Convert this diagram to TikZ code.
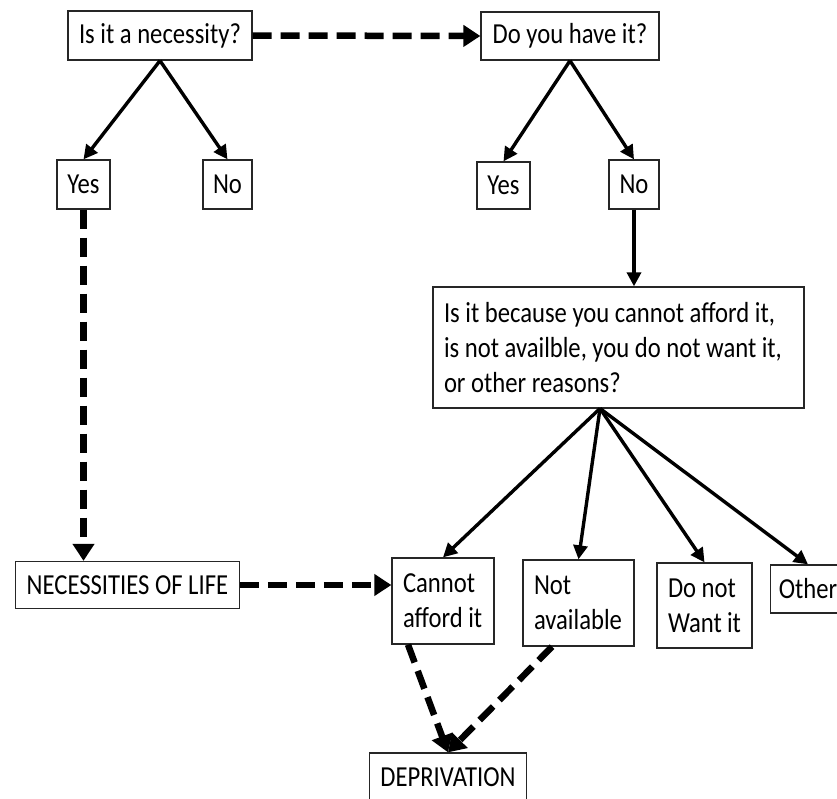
\documentclass[tikz,border=0pt]{standalone}
\usepackage{fontspec}
\setmainfont[FakeStretch=0.85]{Carlito}
\usetikzlibrary{arrows.meta}
\tikzset{
  box/.style={draw=black!85, line width=1.3bp, inner xsep=11bp, inner ysep=0bp,
    font=\fontsize{29bp}{35bp}\selectfont, text=black},
  lbox/.style={box, align=flush left, execute at begin node={\spaceskip=0pt\xspaceskip=0pt}},
  solidarrow/.style={line width=3.4bp, -{Triangle[length=14bp,width=14bp]}},
  dasharrow/.style={line width=6.5bp, dash pattern=on 19bp off 9bp,
    -{Triangle[length=17bp,width=21bp]}}
}
\begin{document}
\begin{tikzpicture}[x=1bp,y=-1bp]
\useasboundingbox (0,0) rectangle (837,799);
\clip (0,0) rectangle (837,799);
% nodes
\node[box, minimum width=184bp, minimum height=49bp] (nec) at (160,35.5) {Is it a necessity?};
\node[box, minimum width=178bp, minimum height=48bp] (have) at (570,36) {Do you have it?};
\node[box, inner xsep=5bp, minimum width=53bp, minimum height=49bp] (yes1) at (83.5,184.5) {Yes};
\node[box, inner xsep=5bp, minimum width=49bp, minimum height=49bp] (no1) at (227.5,184.5) {No};
\node[box, inner xsep=5bp, minimum width=53bp, minimum height=47bp] (yes2) at (503.5,185.5) {Yes};
\node[box, inner xsep=5bp, minimum width=50bp, minimum height=49bp] (no2) at (634,184.5) {No};
\node[lbox, text width=349bp, minimum height=121bp] (why) at (618.5,347.5)
  {Is it because you cannot afford it,\\ is not availble, you do not want it,\\ or other reasons?};
\node[lbox, text width=80bp, minimum height=86bp] (cant) at (443,601) {Cannot\\ afford it};
\node[lbox, text width=89bp, minimum height=86bp] (notav) at (578.5,603) {Not\\ available};
\node[lbox, text width=73bp, minimum height=85bp] (dont) at (704.5,605.5) {Do not\\ Want it};
\node[box, inner xsep=8bp, minimum width=74bp, minimum height=48bp] (other) at (808,589) {Other};
\node[box, minimum width=223bp, minimum height=47bp] (life) at (127.5,585) {NECESSITIES OF LIFE};
\node[box, minimum width=153bp, minimum height=49bp] (dep) at (448,777.5) {DEPRIVATION};
\coordinate (fan) at (600,408.5);
% connectors
\draw[solidarrow] (nec.south) -- (yes1.north);
\draw[solidarrow] (nec.south) -- (no1.north);
\draw[solidarrow] (have.south) -- (yes2.north);
\draw[solidarrow] (have.south) -- (no2.north);
\draw[solidarrow] (no2.south) -- (no2.south |- why.north);
\draw[solidarrow] (fan) -- (cant.north);
\draw[solidarrow] (fan) -- (notav.north);
\draw[solidarrow] (fan) -- (dont.north);
\draw[solidarrow] (fan) -- (other.north);
\draw[dasharrow] (nec.east) -- (have.west);
\draw[dasharrow] (yes1.south) -- (yes1.south |- life.north);
\draw[dasharrow] (life.east) -- (life.east -| cant.west);
\draw[dasharrow] ([xshift=-35bp]cant.south) -- (dep.north);
\draw[dasharrow] ([xshift=-26.5bp]notav.south) -- (dep.north);
\end{tikzpicture}
\end{document}
